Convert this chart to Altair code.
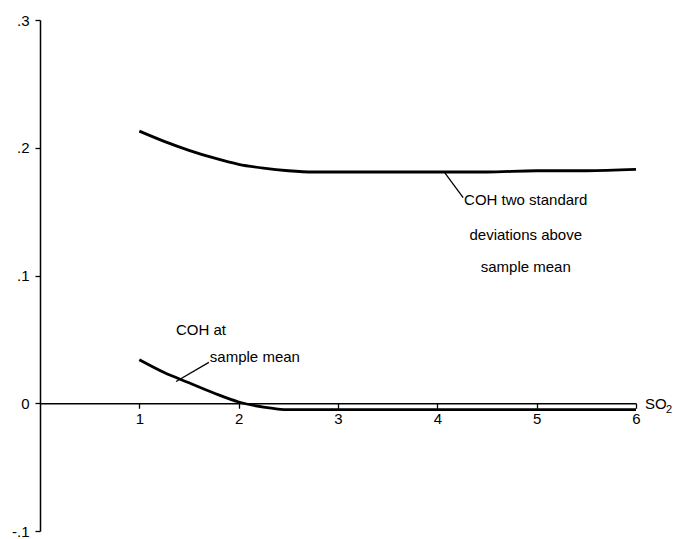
import altair as alt
import pandas as pd

# Curves
so2 = [1.0, 1.25, 1.5, 1.75, 2.0, 2.25, 2.5, 2.75, 3.0, 3.5, 4.0, 4.5, 5.0, 5.5, 6.0]
coh_upper = [0.213, 0.205, 0.198, 0.192, 0.187, 0.184, 0.182, 0.181, 0.181, 0.181, 0.181, 0.181, 0.182, 0.182, 0.183]
coh_lower = [0.034, 0.024, 0.016, 0.008, 0.001, -0.003, -0.005, -0.005, -0.005, -0.005, -0.005, -0.005, -0.005, -0.005, -0.005]

# Annotation texts and anchor positions (data coordinates)
label_text = ["COH at", "sample mean", "COH two standard", "deviations above", "sample mean"]
label_x = [1.62, 1.71, 4.89, 4.89, 4.89]
label_y = [0.057, 0.036, 0.159, 0.132, 0.107]
label_align = ["center", "left", "center", "center", "center"]

leader_x = [1.37, 4.07]
leader_x2 = [1.70, 4.26]
leader_y = [0.017, 0.181]
leader_y2 = [0.032, 0.161]

y_ticks = [-0.1, 0.0, 0.1, 0.2, 0.3]
x_ticks = [1, 2, 3, 4, 5, 6]

FONT = "Liberation Sans"

df = pd.DataFrame({
    "so2": so2 * 2,
    "coh": coh_upper + coh_lower,
    "series": ["upper"] * len(so2) + ["lower"] * len(so2),
})
lab = pd.DataFrame({"t": label_text, "x": label_x, "y": label_y, "a": label_align})
lead = pd.DataFrame({"x": leader_x, "x2": leader_x2, "y": leader_y, "y2": leader_y2})

W = 596
H = 511
xs = alt.Scale(domain=[0, 6], nice=False, zero=False)
ys = alt.Scale(domain=[-0.1, 0.3], nice=False, zero=False)

lines = alt.Chart(df).mark_line(color="black", strokeWidth=2.8, interpolate="monotone").encode(
    x=alt.X("so2:Q", scale=xs, axis=alt.Axis(
        values=x_ticks, format="d", title=None, offset=-H * 0.25, domainColor="black", domainWidth=1.5,
        tickColor="black", tickWidth=1.3, tickSize=5, labelFontSize=15, labelFont=FONT,
        labelColor="black", labelPadding=3, grid=False, labelFlush=False)),
    y=alt.Y("coh:Q", scale=ys, axis=alt.Axis(
        values=y_ticks, title=None, domainColor="black", domainWidth=1.5,
        tickColor="black", tickWidth=1.3, tickSize=5, labelFontSize=15, labelFont=FONT,
        labelColor="black", labelPadding=6, grid=False, labelFlush=False,
        labelExpr="datum.value == 0 ? '0' : replace(replace(format(datum.value, '.1f'), '0.', '.'), '\u2212', '-')")),
    detail="series:N",
)

leaders = alt.Chart(lead).mark_rule(color="black", strokeWidth=1.3).encode(
    x=alt.X("x:Q", scale=xs), x2="x2:Q", y=alt.Y("y:Q", scale=ys), y2="y2:Q")

texts_c = alt.Chart(lab[lab.a == "center"]).mark_text(
    font=FONT, fontSize=15, color="black", align="center", baseline="middle").encode(
    x=alt.X("x:Q", scale=xs), y=alt.Y("y:Q", scale=ys), text="t:N")
texts_l = alt.Chart(lab[lab.a == "left"]).mark_text(
    font=FONT, fontSize=15, color="black", align="left", baseline="middle").encode(
    x=alt.X("x:Q", scale=xs), y=alt.Y("y:Q", scale=ys), text="t:N")

axis_name = pd.DataFrame({"t": ["SO"], "x": [6.0], "y": [0.0]})
axis_sub = pd.DataFrame({"t": ["2"], "x": [6.0], "y": [0.0]})
so_lab = alt.Chart(axis_name).mark_text(
    font=FONT, fontSize=15, color="black", align="left", baseline="middle", dx=9, dy=1).encode(
    x=alt.X("x:Q", scale=xs), y=alt.Y("y:Q", scale=ys), text="t:N")
sub_lab = alt.Chart(axis_sub).mark_text(
    font=FONT, fontSize=11, color="black", align="left", baseline="middle", dx=30, dy=7).encode(
    x=alt.X("x:Q", scale=xs), y=alt.Y("y:Q", scale=ys), text="t:N")

chart = (lines + leaders + texts_c + texts_l + so_lab + sub_lab).properties(
    width=W, height=H,
    background="white",
    padding={"left": 32, "top": 12, "right": 37, "bottom": 8},
    autosize=alt.AutoSizeParams(type="none"),
).configure_view(strokeWidth=0, stroke="transparent")

chart.save("out.html", embed_options={"renderer": "svg", "actions": False})
